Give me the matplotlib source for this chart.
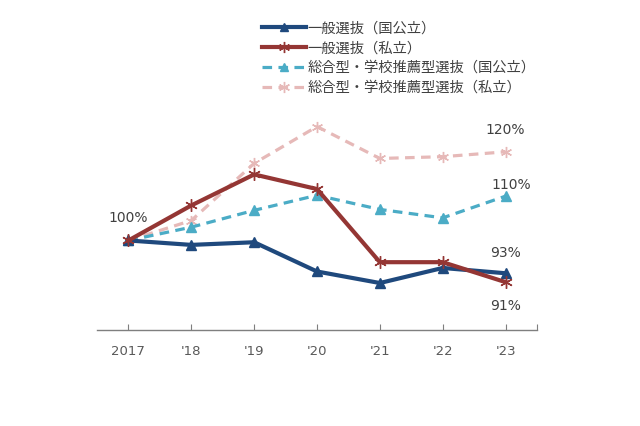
import matplotlib
matplotlib.use("Agg")
import matplotlib.pyplot as plt
from matplotlib.lines import Line2D

plt.rcParams['font.family'] = ['DejaVu Sans', 'Noto Sans CJK JP']

years = ["2017", "'18", "'19", "'20", "'21", "'22", "'23"]
general_public = [100, 99.0, 99.6, 93.0, 90.4, 93.8, 92.6]
general_private = [100, 107.9, 114.9, 111.6, 95.1, 95.1, 90.6]
comp_public = [100, 103.0, 106.8, 110.2, 107.0, 105.1, 110.0]
comp_private = [100, 104.5, 117.4, 125.7, 118.5, 118.9, 120.0]

series_names = ["一般選抜（国公立）", "一般選抜（私立）",
                "総合型・学校推薦型選抜（国公立）", "総合型・学校推薦型選抜（私立）"]
end_labels = ["93%", "91%", "110%", "120%"]
start_label = "100%"

colors = ["#1F497D", "#943634", "#4BACC6", "#E6B9B8"]
dash = (0, (3.0, 2.0))

fig = plt.figure(figsize=(6.4, 4.26), dpi=100)
ax = fig.add_axes([97/640, 1-330/426, 440/640, (330-107.5)/426])

x = list(range(len(years)))
ax.plot(x, comp_private, color=colors[3], lw=2.3, ls=dash,
        marker=(6, 2, 0), ms=8, mew=1.0, zorder=2)
ax.plot(x, comp_public, color=colors[2], lw=2.3, ls=dash,
        marker='^', ms=7, zorder=3)
ax.plot(x, general_public, color=colors[0], lw=3.0, marker='^', ms=7, zorder=4)
ax.plot(x, general_private, color=colors[1], lw=3.0, marker=(6, 2, 0), ms=9,
        mew=1.0, zorder=5)

ax.set_xlim(-0.5, 6.5)
ax.set_ylim(79.8, 130)
ax.set_xticks(x + [6.5])
ax.set_xticklabels(years + [""])
ax.tick_params(axis='x', direction='in', length=4, color='#7F7F7F',
               labelcolor='#595959', labelsize=9.5, pad=11)
ax.set_yticks([])
for s in ['left', 'right', 'top']:
    ax.spines[s].set_visible(False)
ax.spines['bottom'].set_color('#7F7F7F')
ax.spines['bottom'].set_linewidth(1.0)

tc = '#404040'
fs = 10
ax.annotate(start_label, (0, general_public[0]), xytext=(0, 22),
            textcoords='offset pixels', ha='center', va='center', fontsize=fs, color=tc)
ax.annotate(end_labels[3], (6, comp_private[-1]), xytext=(0, 22),
            textcoords='offset pixels', ha='center', va='center', fontsize=fs, color=tc)
ax.annotate(end_labels[2], (6, comp_public[-1]), xytext=(6, 11),
            textcoords='offset pixels', ha='center', va='center', fontsize=fs, color=tc)
ax.annotate(end_labels[0], (6, general_public[-1]), xytext=(0, 20),
            textcoords='offset pixels', ha='center', va='center', fontsize=fs, color=tc)
ax.annotate(end_labels[1], (6, general_private[-1]), xytext=(0, -24),
            textcoords='offset pixels', ha='center', va='center', fontsize=fs, color=tc)

handles = [
    Line2D([], [], color=colors[0], lw=3.0, marker='^', ms=6),
    Line2D([], [], color=colors[1], lw=3.0, marker=(6, 2, 0), ms=8),
    Line2D([], [], color=colors[2], lw=2.3, ls=dash, marker='^', ms=6),
    Line2D([], [], color=colors[3], lw=2.3, ls=dash, marker=(6, 2, 0), ms=8),
]
leg = fig.legend(handles, series_names, loc='upper left',
                 bbox_to_anchor=(262/640, 1-21.5/426), frameon=False,
                 prop={'family': ['Noto Sans CJK JP', 'DejaVu Sans'], 'size': 10.3},
                 labelcolor='#404040', handlelength=3.1, handletextpad=0.1,
                 labelspacing=0.4, borderaxespad=0, borderpad=0)

fig.savefig("out.png", dpi=100)
